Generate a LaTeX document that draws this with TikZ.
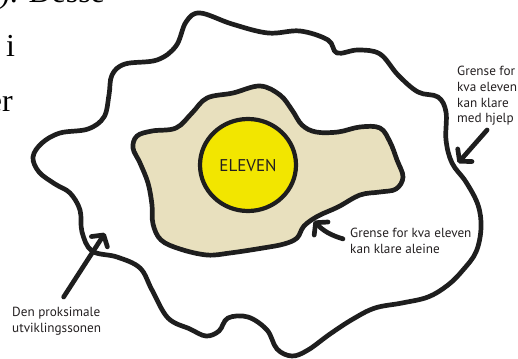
\documentclass[tikz,border=0pt]{standalone}
\usepackage{fontspec}
\setmainfont{Liberation Serif}
\newfontfamily\merkfont{PT Sans}
\usetikzlibrary{arrows.meta}
\definecolor{ink}{HTML}{1E1E1E}
\definecolor{egg}{HTML}{E8E0BE}
\definecolor{yolk}{HTML}{F2E600}
\definecolor{txt}{HTML}{231F20}

\begin{document}
\begin{tikzpicture}[x=1pt,y=-1pt,
  blob/.style={draw=ink,line width=4.7pt,line join=round},
  pil/.style={draw=ink,line width=4.7pt,line cap=round,-{Straight Barb[length=8pt,width=19pt,round]}},
  merk/.style={font=\merkfont\fontsize{13.2}{15.8}\selectfont,text=txt,align=left,inner sep=0pt,anchor=north west}]
\useasboundingbox (0,0) rectangle (518,358);
\node[anchor=base west,font=\fontsize{32}{32}\selectfont,inner sep=0pt] (desse) at (-1,3) {). Desse};
\node[anchor=base west,font=\fontsize{32}{32}\selectfont,inner sep=0pt] (ord-i) at (6,57) {i};
\node[anchor=base east,font=\fontsize{32}{32}\selectfont,inner sep=0pt] (ord-er) at (13,112) {er};
\draw[blob] plot[smooth cycle,tension=0.6] coordinates {(200,13) (232,24) (268,33) (300,31) (328,40) (337,53) (358,50) (380,54) (398,75) (418,92) (438,97) (446,112) (446,140) (452,163) (466,182) (478,205) (481,228) (476,252) (463,270) (448,285) (428,297) (402,303) (375,308) (353,319) (330,334) (308,350) (292,356) (277,349) (267,330) (248,317) (228,318) (219,331) (206,336) (190,329) (168,318) (152,290) (140,268) (117,257) (92,251) (82,232) (80,210) (70,193) (55,184) (39,172) (33,157) (42,143) (60,133) (88,129) (104,117) (109,95) (112,75) (125,64) (157,60) (176,46) (186,22)};
\draw[blob,fill=egg] plot[smooth cycle,tension=0.6] coordinates {(137,136) (152,131) (176,128) (192,113) (207,98) (233,93) (260,86) (280,95) (292,110) (302,125) (316,132) (338,132) (360,127) (380,128) (390,142) (397,160) (403,177) (396,189) (380,192) (360,195) (338,207) (318,216) (304,226) (297,238) (284,244) (263,248) (230,253) (207,255) (180,249) (161,240) (153,224) (152,205) (148,183) (140,163) (133,148)};
\draw[draw=ink,line width=4.2pt,fill=yolk] (248,165) ellipse [x radius=48,y radius=46];
\node[font=\merkfont\fontsize{17}{17}\selectfont,text=txt] (elev) at (248,166) {ELEVEN};
\node[merk] (hjelp) at (457,66) {Grense for\\kva eleven\\kan klare\\med hjelp};
\node[merk] (aleine) at (350,228) {Grense for kva eleven\\kan klare aleine};
\node[merk] (proksimal) at (12,307) {Den proksimale\\utviklingssonen};
\coordinate (hjelp-tip) at (458,163);
\coordinate (aleine-tip) at (314,221);
\coordinate (proksimal-tip) at (105,233);
\draw[pil] ([yshift=-4pt]hjelp.south) -- (hjelp-tip);
\draw[pil] ([xshift=-7pt,yshift=2pt]aleine.west) to[bend left=15] (aleine-tip);
\draw[pil] ([xshift=7pt,yshift=10pt]proksimal.north) -- (proksimal-tip);
\end{tikzpicture}
\end{document}
